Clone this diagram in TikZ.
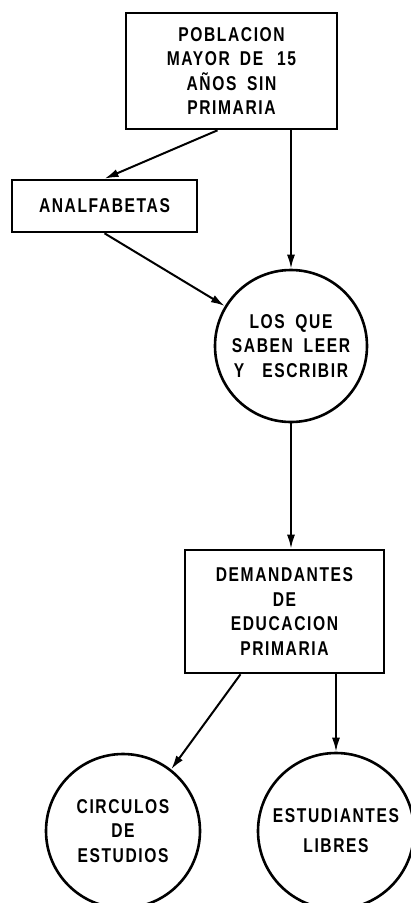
\documentclass[tikz,border=0pt]{standalone}
\usepackage{fontspec}
\setmainfont{Liberation Sans}[FakeStretch=0.78,LetterSpace=8,WordSpace=1.8]
\usetikzlibrary{arrows.meta}
\tikzset{
  caja/.style={
      draw,
      line width=2.6pt,
      rectangle,
      inner sep=0pt,
      align=center,
  },
  circulo/.style={
      draw,
      line width=2.6pt,
      circle,
      inner sep=0pt,
      align=center,
  },
  flecha/.style={
      line width=2pt,
      -{Latex[length=14pt,width=8pt]}
  }
}
\begin{document}
\begin{tikzpicture}[x=1pt,y=-1pt,
			every node/.style={font=\fontsize{20}{24.5}\selectfont\bfseries}]
				\useasboundingbox (0,0) rectangle (411,903);
				% cajas y circulos
				\node[caja,minimum width=211pt,minimum height=116pt] (pob) at (231.5,71)
					{POBLACION\\MAYOR\hspace{10pt}DE\hspace{14pt}15\\A\~NOS SIN\\PRIMARIA};
				\node[caja,minimum width=185pt,minimum height=52pt] (analf) at (104.5,206)
					{ANALFABETAS};
				\node[circulo,minimum size=152pt] (leer) at (291,346)
					{LOS QUE\\SABEN LEER\\Y\hspace{18pt}ESCRIBIR};
				\node[caja,minimum width=199pt,minimum height=123pt] (dem) at (284.5,611.5)
					{DEMANDANTES\\DE\\EDUCACION\\PRIMARIA};
				\node[circulo,minimum size=154pt] (circ) at (123,831)
					{CIRCULOS\\DE\\ESTUDIOS};
				\node[circulo,minimum size=156pt,font=\fontsize{20}{30}\selectfont\bfseries] (libres) at (336,831)
					{ESTUDIANTES\\LIBRES};
				% flechas
				\draw[flecha] ([xshift=-14pt]pob.south) -- (analf.north);
				\draw[flecha] (pob.south -| leer.north) -- (leer.north);
				\draw[flecha] (analf.south) -- (leer);
				\draw[flecha] (leer.south) -- (leer.south |- dem.north);
				\draw[flecha] ([xshift=-44pt]dem.south) -- (circ.52);
				\draw[flecha] (libres.north |- dem.south) -- (libres.north);
		\end{tikzpicture}
\end{document}
